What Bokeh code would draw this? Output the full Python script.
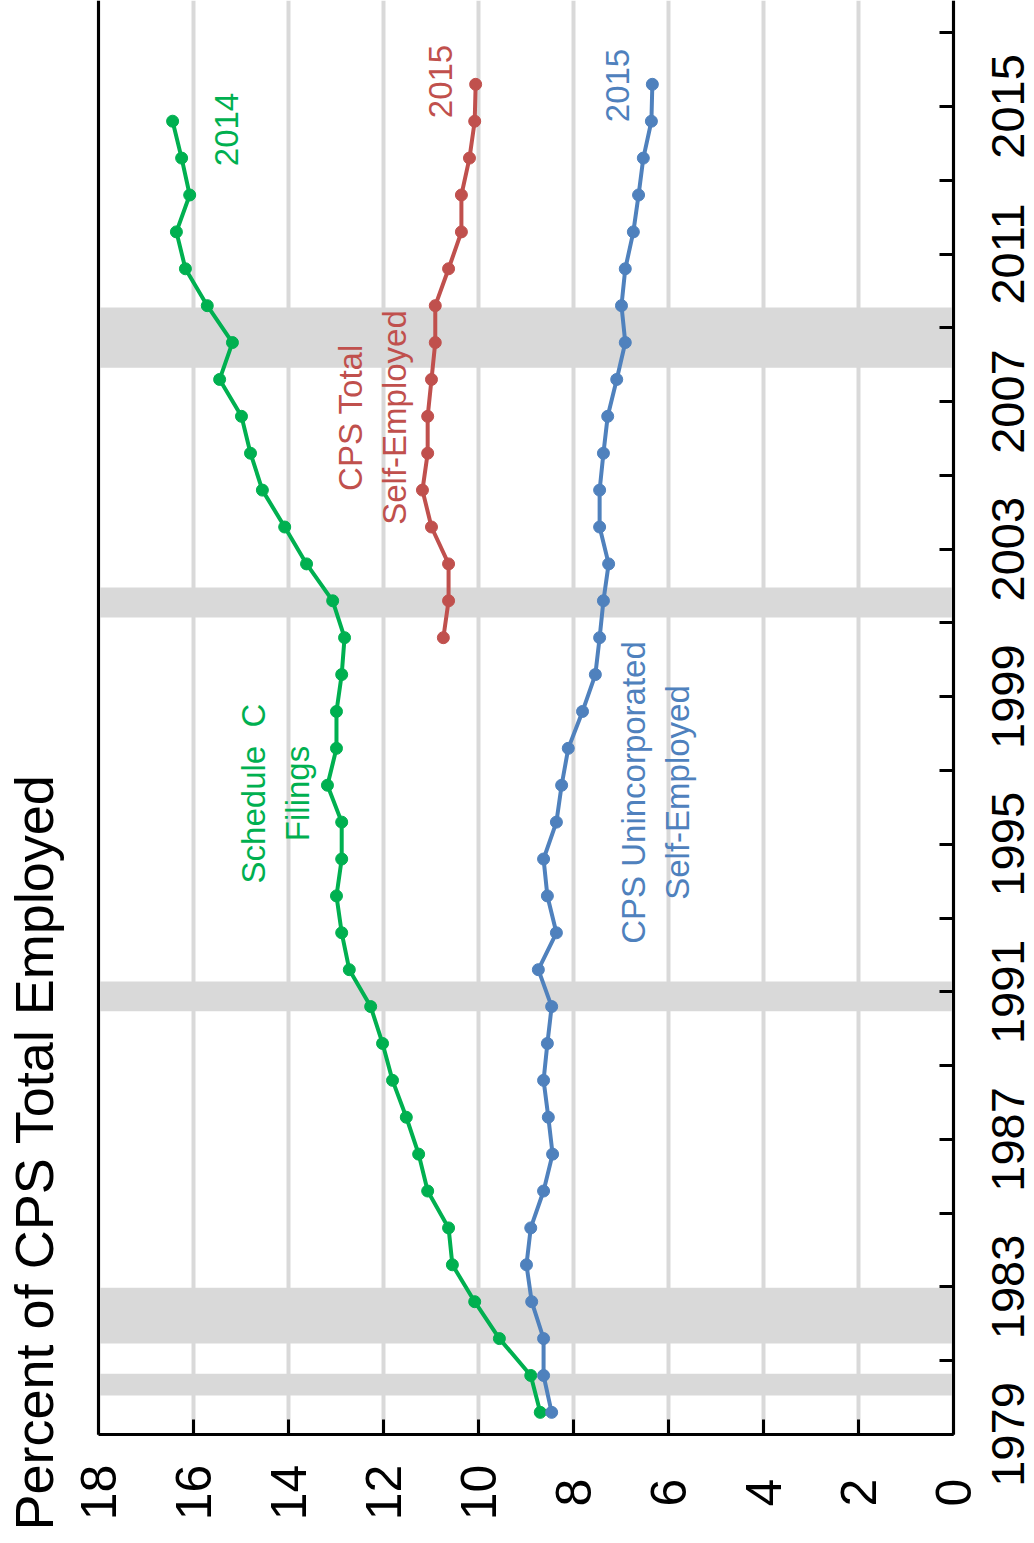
from math import pi
from bokeh.plotting import figure
from bokeh.models import Range1d, LinearAxis, FixedTicker, Label, ColumnDataSource, CustomJSTickFormatter
from bokeh.embed import file_html
from bokeh.resources import INLINE

# ---------------- data ----------------
years_sched_c = list(range(1979, 2015))
sched_c = [8.70, 8.90, 9.56, 10.08, 10.55, 10.63, 11.07, 11.26, 11.52, 11.81,
           12.02, 12.27, 12.72, 12.88, 12.99, 12.88, 12.88, 13.18, 12.99, 12.99,
           12.88, 12.82, 13.07, 13.62, 14.08, 14.55, 14.80, 14.99, 15.45, 15.18,
           15.71, 16.17, 16.36, 16.08, 16.25, 16.44]

years_uninc = list(range(1979, 2016))
cps_uninc = [8.46, 8.63, 8.63, 8.88, 8.99, 8.90, 8.63, 8.44, 8.53, 8.63,
             8.55, 8.46, 8.74, 8.36, 8.55, 8.63, 8.36, 8.25, 8.11, 7.81,
             7.54, 7.45, 7.37, 7.26, 7.45, 7.45, 7.37, 7.28, 7.09, 6.91,
             6.99, 6.91, 6.74, 6.63, 6.53, 6.36, 6.34]

years_total = list(range(2000, 2016))
cps_total = [10.74, 10.63, 10.63, 10.99, 11.18, 11.07, 11.07, 10.99, 10.91, 10.91,
             10.63, 10.36, 10.36, 10.19, 10.08, 10.06]

recession_start = [1980.06, 1981.47, 1990.47, 2001.15, 2007.92]
recession_end = [1980.65, 1982.98, 1991.28, 2001.96, 2009.55]

pct_ticks = [0, 2, 4, 6, 8, 10, 12, 14, 16, 18]
year_ticks = list(range(1979, 2018, 2))
year_tick_labels = list(range(1979, 2016, 4))

MID_YEAR = 0.6  # annual values plotted within the year

GREEN = "#00B050"
RED = "#C0504D"
BLUE = "#4F81BD"
GRID = "#D9D9D9"
FONT = "Liberation Sans"

# ---------------- layout (canvas pixels) ----------------
W, H = 1034, 1543
FR_LEFT, FR_RIGHT, FR_BOTTOM = 98, 953, 1434   # frame edges in pixels
PX_PER_PCT = (FR_RIGHT - FR_LEFT) / 18.0
PX_PER_YR = 36.89
Y_BASE = 1979

def px_x(px):
    return 18.0 - (px - FR_LEFT) / PX_PER_PCT

def px_y(py):
    return Y_BASE + (FR_BOTTOM - py) / PX_PER_YR

Y_TOP = px_y(0)

p = figure(width=W, height=H,
           x_range=Range1d(px_x(0), px_x(W)), y_range=Range1d(px_y(H), Y_TOP),
           x_axis_location=None, y_axis_location=None,
           output_backend="svg", toolbar_location=None,
           min_border_left=0, min_border_right=0, min_border_top=0, min_border_bottom=0)
p.outline_line_color = None
p.background_fill_color = "white"
p.border_fill_color = "white"
p.xgrid.visible = False
p.ygrid.visible = False

empty_fmt = CustomJSTickFormatter(code="return ''")

def frame_axis(fixed, ticks, bounds, tick_len):
    ax = LinearAxis(fixed_location=fixed, ticker=FixedTicker(ticks=ticks), formatter=empty_fmt,
                    bounds=bounds, major_tick_in=tick_len, major_tick_out=0,
                    major_tick_line_width=3, major_tick_line_color="black",
                    minor_tick_line_color=None, axis_line_width=3, axis_line_color="black",
                    major_label_text_font_size="0px", major_label_standoff=0)
    return ax

# gridlines (vertical, every 2 percent) inside the frame
grid_src = ColumnDataSource(dict(x=pct_ticks, y0=[Y_BASE] * len(pct_ticks), y1=[Y_TOP] * len(pct_ticks)))
p.segment(x0="x", x1="x", y0="y0", y1="y1", source=grid_src, line_color=GRID, line_width=4)

# recession bands
rec_src = ColumnDataSource(dict(bottom=recession_start, top=recession_end,
                                left=[0] * len(recession_start), right=[18] * len(recession_start)))
p.quad(left="left", right="right", bottom="bottom", top="top", source=rec_src,
       fill_color=GRID, line_color=None)

# frame axes
p.add_layout(frame_axis(Y_BASE, pct_ticks, (0, 18), 15), "below")
p.add_layout(frame_axis(0, year_ticks, (Y_BASE, Y_TOP), 14), "right")
p.add_layout(frame_axis(18, [], (Y_BASE, Y_TOP), 0), "left")

# series
def series(years, vals, color):
    ys = [y + MID_YEAR for y in years]
    src = ColumnDataSource(dict(x=vals, y=ys))
    p.line("x", "y", source=src, line_color=color, line_width=4)
    p.scatter("x", "y", source=src, size=12, fill_color=color, line_color=color)

series(years_sched_c, sched_c, GREEN)
series(years_total, cps_total, RED)
series(years_uninc, cps_uninc, BLUE)

# tick labels
for v in pct_ticks:
    p.add_layout(Label(x=v, y=px_y(1492), text=str(v), text_font_size="50px",
                       angle=pi / 2, text_align="center", text_baseline="middle",
                       text_font=FONT, text_color="black"))
for yr in year_tick_labels:
    p.add_layout(Label(x=px_x(1007), y=yr, text=str(yr), text_font_size="47px",
                       angle=pi / 2, text_align="center", text_baseline="middle",
                       text_font=FONT, text_color="black"))

# axis title
p.add_layout(Label(x=px_x(33), y=px_y(1530), text="Percent of CPS Total Employed",
                   angle=pi / 2, text_align="left", text_baseline="middle",
                   text_font=FONT, text_font_size="54px", text_color="black"))

# annotations
ann_kw = dict(angle=pi / 2, text_align="center", text_baseline="middle",
              text_font=FONT, text_font_size="33px", text_line_height=1.2)
p.add_layout(Label(x=px_x(226), y=px_y(129), text="2014", text_color=GREEN, **ann_kw))
p.add_layout(Label(x=px_x(440), y=px_y(81), text="2015", text_color=RED, **ann_kw))
p.add_layout(Label(x=px_x(617), y=px_y(85), text="2015", text_color=BLUE, **ann_kw))
p.add_layout(Label(x=px_x(275), y=px_y(793), text="Schedule \u00a0C\nFilings", text_color=GREEN, **ann_kw))
p.add_layout(Label(x=px_x(372), y=px_y(417), text="CPS Total\nSelf-Employed", text_color=RED, **ann_kw))
p.add_layout(Label(x=px_x(655), y=px_y(792), text="CPS Unincorporated\nSelf-Employed", text_color=BLUE, **ann_kw))

open("out.html", "w").write(file_html(p, INLINE))
